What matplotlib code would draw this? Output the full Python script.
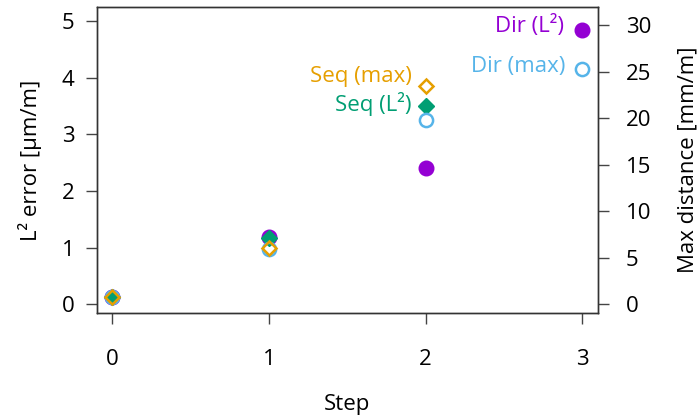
import matplotlib
matplotlib.use("Agg")
import matplotlib.pyplot as plt

plt.rcParams['font.family'] = ['Open Sans', 'DejaVu Sans']

steps = [0, 1, 2, 3]
steps_seq = [0, 1, 2]

# left axis, L2 error [um/m]
dir_l2 = [0.12, 1.18, 2.41, 4.84]
seq_l2 = [0.13, 1.17, 3.50]
# right axis, max distance [mm/m]
dir_max = [0.8, 5.9, 19.8, 25.3]
seq_max = [0.8, 6.0, 23.5]

c_dir_l2 = '#9400D3'
c_seq_l2 = '#009E73'
c_seq_max = '#E69F00'
c_dir_max = '#56B4E9'

fig = plt.figure(figsize=(6.98, 4.17), dpi=100)
ax = fig.add_axes([96.5 / 698, 1 - 313.3 / 417, 501.5 / 698, 306.6 / 417])
ax2 = ax.twinx()

# filled marks on the left axis, open marks on the right axis (drawn on top)
ax.plot(steps, dir_l2, 'o', ms=10.5, color=c_dir_l2, mec=c_dir_l2, zorder=3)
ax.plot(steps_seq, seq_l2, 'D', ms=8, color=c_seq_l2, zorder=4)
ax2.plot(steps, dir_max, 'o', ms=9.5, mfc='none', mec=c_dir_max, mew=1.8, zorder=3)
ax2.plot(steps_seq, seq_max, 'D', ms=7.5, mfc='none', mec=c_seq_max, mew=1.8, zorder=4)

ax.set_xlim(-0.1, 3.1)
ax.set_ylim(-0.16, 5.25)
ax2.set_ylim(-0.97, 32.0)
ax.set_xticks(steps)
ax.set_yticks([0, 1, 2, 3, 4, 5])
ax2.set_yticks([0, 5, 10, 15, 20, 25, 30])

fs = 16
for a in (ax, ax2):
    for s in a.spines.values():
        s.set_color('#333333')
        s.set_linewidth(1.0)
    a.tick_params(length=8, width=1.0, color='#444444', labelsize=fs)
ax.tick_params(axis='x', pad=18)
ax.tick_params(axis='y', pad=8)
ax2.tick_params(axis='y', pad=12)

ax.set_xlabel('Step', fontsize=fs, labelpad=17)
ax.set_ylabel('L² error [µm/m]', fontsize=fs, labelpad=14)
ax2.set_ylabel('Max distance [mm/m]', fontsize=fs, labelpad=19)

# labels beside the last points
lab = dict(fontsize=fs, ha='right', va='center')
ax.annotate('Dir (L²)', (steps[-1], dir_l2[-1]), xytext=(-13, 2.7), textcoords='offset points', color=c_dir_l2, **lab)
ax2.annotate('Dir (max)', (steps[-1], dir_max[-1]), xytext=(-12, 1.5), textcoords='offset points', color=c_dir_max, **lab)
ax2.annotate('Seq (max)', (steps_seq[-1], seq_max[-1]), xytext=(-10, 7), textcoords='offset points', color=c_seq_max, **lab)
ax.annotate('Seq (L²)', (steps_seq[-1], seq_l2[-1]), xytext=(-10.5, 1), textcoords='offset points', color=c_seq_l2, **lab)

fig.savefig('out.png', dpi=100)
